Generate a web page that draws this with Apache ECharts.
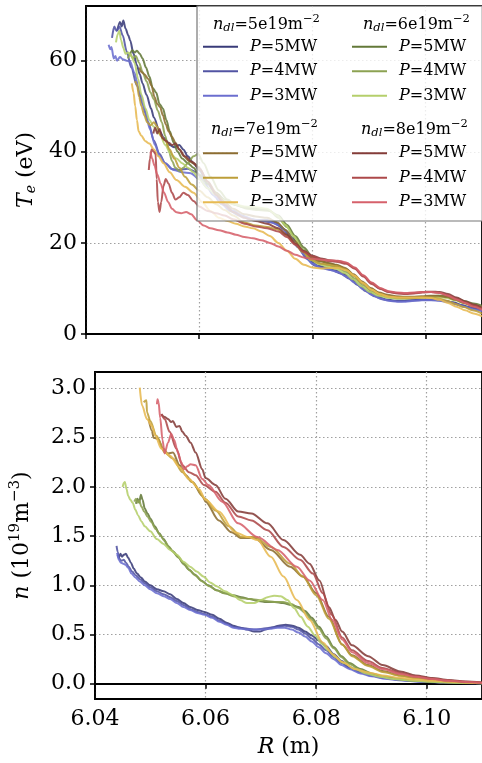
<!DOCTYPE html>
<html><head><meta charset="utf-8">
<script src="https://cdn.jsdelivr.net/npm/echarts@6/dist/echarts.min.js"></script>
<style>html,body{margin:0;padding:0;background:#fff;overflow:hidden}#c{width:482px;height:763px}</style>
</head><body><div id="c"></div>
<script>
// ---------- tick labels ----------
const xTicks = [6.04, 6.06, 6.08, 6.10];
const teTicks = [0, 20, 40, 60];
const nTicks = [0, 0.5, 1.0, 1.5, 2.0, 2.5, 3.0];

// ---------- categories ----------
const densities = ['5', '6', '7', '8'];   // n_dl (1e19 m^-2)
const powers = ['5', '4', '3'];           // P (MW)

// ---------- Te (eV) vs R (m) ----------
const teN5P5 = [[6.0455,66.5],[6.0460,68.5],[6.0463,67.5],[6.0466,68.8],[6.0470,67],[6.0475,65.5],[6.0478,64.5],[6.0484,61.5],[6.0490,59],[6.0495,57],[6.0500,55],[6.0507,52.5],[6.0515,49.5],[6.0520,47.5],[6.0530,44.5],[6.0538,43],[6.0548,41.5],[6.0556,41],[6.0565,41.5],[6.0572,40.5],[6.0580,39],[6.0590,37.5],[6.0600,36],[6.0615,33],[6.0630,30.5],[6.0645,28.5],[6.0660,27],[6.0675,26],[6.0690,25.2],[6.0705,25],[6.0720,25],[6.0735,24.5],[6.0750,23],[6.0765,21],[6.0780,18.5],[6.0795,16.2],[6.0810,15],[6.0825,14.5],[6.0840,14],[6.0855,13.2],[6.0870,12],[6.0885,10.5],[6.0900,9.2],[6.0915,8.2],[6.0930,7.6],[6.0945,7.3],[6.0960,7.3],[6.0975,7.4],[6.0990,7.5],[6.1005,7.5],[6.1020,7.5],[6.1035,7.3],[6.1050,6.9],[6.1065,6.3],[6.1080,5.8],[6.1100,5.2]];
const teN5P4 = [[6.0446,65],[6.0450,67.5],[6.0454,66.5],[6.0459,67.5],[6.0465,65.5],[6.0472,62],[6.0480,58.5],[6.0490,54.5],[6.0500,50.5],[6.0510,46.5],[6.0520,42.5],[6.0530,39.5],[6.0540,37.5],[6.0552,36.2],[6.0565,36],[6.0580,36.3],[6.0595,35.5],[6.0610,33],[6.0625,30.5],[6.0640,28.5],[6.0655,27],[6.0670,26],[6.0690,25.2],[6.0710,24.8],[6.0730,24.5],[6.0745,23.5],[6.0760,21.5],[6.0775,19],[6.0790,16.5],[6.0805,15],[6.0820,14.5],[6.0835,14],[6.0850,13.3],[6.0865,12.2],[6.0880,10.8],[6.0895,9.4],[6.0910,8.3],[6.0925,7.6],[6.0940,7.3],[6.0955,7.2],[6.0970,7.3],[6.0985,7.4],[6.1000,7.5],[6.1015,7.5],[6.1030,7.3],[6.1045,7.0],[6.1060,6.4],[6.1075,5.9],[6.1100,5.2]];
const teN5P3 = [[6.0440,63.5],[6.0443,62.5],[6.0445,63],[6.0449,60.5],[6.0452,61],[6.0455,60],[6.0460,60.8],[6.0465,60.3],[6.0472,60],[6.0478,59.8],[6.0485,57.5],[6.0495,53],[6.0505,48.5],[6.0513,45],[6.0522,41.5],[6.0530,39],[6.0540,37.5],[6.0555,36],[6.0570,35.5],[6.0585,35.3],[6.0600,34],[6.0615,32],[6.0630,30],[6.0645,28.3],[6.0660,27],[6.0680,25.8],[6.0700,25],[6.0720,24.8],[6.0740,24],[6.0755,22.5],[6.0770,20],[6.0785,17.5],[6.0800,15.5],[6.0815,14.5],[6.0830,14.1],[6.0845,13.6],[6.0860,12.6],[6.0875,11.3],[6.0890,9.8],[6.0905,8.6],[6.0920,7.8],[6.0935,7.3],[6.0950,7.1],[6.0965,7.1],[6.0980,7.3],[6.0995,7.4],[6.1010,7.4],[6.1025,7.3],[6.1040,7.0],[6.1055,6.5],[6.1070,5.9],[6.1085,5.4],[6.1100,5.0]];
const teN6P5 = [[6.0478,61.5],[6.0482,62.3],[6.0486,61.8],[6.0490,62.2],[6.0495,61.5],[6.0500,60.5],[6.0506,58.5],[6.0512,56.5],[6.0518,54],[6.0524,53],[6.0530,50.5],[6.0536,49.5],[6.0542,47],[6.0548,44.5],[6.0555,42],[6.0562,40],[6.0570,38.5],[6.0580,37.5],[6.0590,36.5],[6.0600,35],[6.0615,33],[6.0630,31],[6.0645,29.5],[6.0660,28.5],[6.0680,27.8],[6.0700,27.5],[6.0720,27.3],[6.0740,26],[6.0755,24],[6.0770,21.5],[6.0785,19],[6.0800,17],[6.0815,16],[6.0830,15.5],[6.0845,15],[6.0860,14.2],[6.0875,12.8],[6.0890,11.2],[6.0905,9.8],[6.0920,8.8],[6.0935,8.3],[6.0950,8.1],[6.0965,8.0],[6.0980,8.0],[6.0995,8.1],[6.1010,8.3],[6.1025,8.4],[6.1040,8.3],[6.1055,7.8],[6.1070,7.2],[6.1085,6.7],[6.1100,6.2]];
const teN6P4 = [[6.0474,60.5],[6.0478,61.5],[6.0483,60.5],[6.0488,61],[6.0494,59.5],[6.0500,57.5],[6.0507,55.5],[6.0514,53],[6.0520,51.5],[6.0527,49],[6.0534,46.5],[6.0540,43.5],[6.0546,40.5],[6.0552,38],[6.0558,36.5],[6.0565,35.8],[6.0572,36.5],[6.0580,37.5],[6.0590,39],[6.0598,39.5],[6.0608,37.5],[6.0620,34.5],[6.0635,31.5],[6.0650,29.5],[6.0665,28.3],[6.0685,27.5],[6.0705,27.2],[6.0725,27],[6.0740,25.5],[6.0755,23.5],[6.0770,21],[6.0785,18.5],[6.0800,16.5],[6.0815,15.5],[6.0830,15],[6.0845,14.5],[6.0860,13.6],[6.0875,12.2],[6.0890,10.7],[6.0905,9.4],[6.0920,8.5],[6.0935,8.0],[6.0950,7.8],[6.0965,7.8],[6.0980,7.9],[6.0995,8.0],[6.1010,8.2],[6.1025,8.2],[6.1040,8.0],[6.1055,7.5],[6.1070,6.9],[6.1085,6.4],[6.1100,5.9]];
const teN6P3 = [[6.0453,64],[6.0456,65.8],[6.0459,66.5],[6.0462,64.5],[6.0466,62.8],[6.0470,61.5],[6.0475,61.8],[6.0480,61],[6.0486,59.5],[6.0492,56],[6.0498,52.5],[6.0505,49.5],[6.0512,47],[6.0520,45.5],[6.0530,44],[6.0540,41.5],[6.0550,39.5],[6.0560,38.5],[6.0570,37.5],[6.0580,36.5],[6.0590,35.5],[6.0600,34],[6.0615,32],[6.0630,30.5],[6.0645,29.3],[6.0660,28.5],[6.0680,28],[6.0700,27.8],[6.0720,27.5],[6.0738,26],[6.0752,24],[6.0767,21.5],[6.0782,18.5],[6.0797,16.3],[6.0812,15.3],[6.0827,14.8],[6.0842,14.3],[6.0857,13.4],[6.0872,12.0],[6.0887,10.5],[6.0902,9.2],[6.0917,8.4],[6.0932,8.0],[6.0947,7.8],[6.0962,7.8],[6.0977,7.9],[6.0992,8.0],[6.1007,8.1],[6.1022,8.1],[6.1037,7.9],[6.1052,7.4],[6.1067,6.8],[6.1082,6.2],[6.1100,5.7]];
const teN7P5 = [[6.0494,58.5],[6.0498,57.5],[6.0503,57],[6.0510,56],[6.0516,54.5],[6.0521,52],[6.0526,50.5],[6.0531,49.8],[6.0536,48],[6.0541,46],[6.0546,44.5],[6.0552,43.3],[6.0558,42],[6.0565,40.5],[6.0573,39],[6.0582,38],[6.0592,37.3],[6.0602,36],[6.0615,33.5],[6.0630,31],[6.0645,29],[6.0660,27.5],[6.0680,26.3],[6.0700,25.8],[6.0720,25.5],[6.0738,24.5],[6.0753,22.8],[6.0768,20.5],[6.0783,18.3],[6.0798,16.8],[6.0813,16],[6.0828,15.6],[6.0843,15.2],[6.0858,14.5],[6.0873,13.1],[6.0888,11.5],[6.0903,10.1],[6.0918,9.1],[6.0933,8.6],[6.0948,8.3],[6.0963,8.2],[6.0978,8.2],[6.0993,8.3],[6.1008,8.4],[6.1023,8.4],[6.1038,8.1],[6.1053,7.5],[6.1068,6.8],[6.1083,6.2],[6.1100,5.6]];
const teN7P4 = [[6.0487,55.5],[6.0490,54.8],[6.0494,52],[6.0498,50],[6.0503,48],[6.0508,46.5],[6.0514,45.8],[6.0520,46.5],[6.0526,45.5],[6.0532,43.5],[6.0540,42.5],[6.0548,40.5],[6.0556,38.5],[6.0565,36.5],[6.0575,34.5],[6.0587,32.8],[6.0600,31.5],[6.0615,30],[6.0630,28.5],[6.0645,27.2],[6.0660,26],[6.0680,24.5],[6.0700,23.8],[6.0720,23.5],[6.0738,23],[6.0753,21.8],[6.0768,20],[6.0783,18],[6.0798,16.3],[6.0813,15.5],[6.0828,15.2],[6.0843,14.9],[6.0858,14.2],[6.0873,12.8],[6.0888,11.2],[6.0903,9.8],[6.0918,8.8],[6.0933,8.3],[6.0948,8.0],[6.0963,7.9],[6.0978,7.9],[6.0993,8.0],[6.1008,8.0],[6.1023,7.8],[6.1038,7.3],[6.1053,6.6],[6.1068,5.9],[6.1083,5.2],[6.1100,4.5]];
const teN7P3 = [[6.0481,55],[6.0484,53],[6.0487,50],[6.0490,47],[6.0493,44.5],[6.0498,43.5],[6.0505,42.3],[6.0512,41.8],[6.0520,40.5],[6.0528,39],[6.0537,37.5],[6.0548,35.5],[6.0560,33.8],[6.0575,32.3],[6.0590,31],[6.0605,29],[6.0620,27],[6.0635,25.5],[6.0650,24.8],[6.0665,24.2],[6.0680,23.6],[6.0695,23.2],[6.0710,22.5],[6.0725,21.5],[6.0740,20],[6.0755,18.3],[6.0770,16.5],[6.0785,15.2],[6.0800,14.6],[6.0815,14.4],[6.0830,14.5],[6.0845,14.5],[6.0860,14],[6.0875,12.8],[6.0890,11.2],[6.0905,9.7],[6.0920,8.7],[6.0935,8.2],[6.0950,8.0],[6.0965,8.0],[6.0980,8.0],[6.0995,8.0],[6.1010,7.9],[6.1025,7.5],[6.1040,6.8],[6.1055,6.0],[6.1070,5.2],[6.1085,4.5],[6.1100,3.9]];
const teN8P5 = [[6.0519,44],[6.0522,45.3],[6.0526,44],[6.0530,45],[6.0535,43],[6.0540,42.5],[6.0546,42],[6.0552,41.5],[6.0558,41.8],[6.0565,40.5],[6.0575,39],[6.0587,37.8],[6.0600,36.5],[6.0615,33.5],[6.0630,30.5],[6.0645,28.3],[6.0660,26.8],[6.0680,25.5],[6.0700,24.8],[6.0720,24.2],[6.0740,23.2],[6.0755,21.8],[6.0770,19.8],[6.0785,18.2],[6.0800,17.2],[6.0815,16.6],[6.0830,16.2],[6.0845,16],[6.0860,15.6],[6.0875,14.5],[6.0890,12.8],[6.0905,11.2],[6.0920,10],[6.0935,9.3],[6.0950,9.0],[6.0965,8.9],[6.0980,9.0],[6.0995,9.2],[6.1010,9.3],[6.1025,9.2],[6.1040,8.8],[6.1055,8.0],[6.1070,7.2],[6.1085,6.5],[6.1100,5.8]];
const teN8P4 = [[6.0511,36],[6.0513,38.5],[6.0516,40.5],[6.0520,40],[6.0523,39.5],[6.0525,34],[6.0527,29],[6.0530,26.8],[6.0533,29],[6.0537,32.5],[6.0541,34],[6.0546,33],[6.0552,31],[6.0558,29.5],[6.0565,30],[6.0572,31],[6.0580,30.5],[6.0590,29.2],[6.0600,28],[6.0615,27],[6.0630,26.5],[6.0645,26],[6.0660,25.2],[6.0680,24.2],[6.0700,23.6],[6.0720,23.2],[6.0740,22.5],[6.0755,21.3],[6.0770,19.6],[6.0785,18],[6.0800,17],[6.0815,16.4],[6.0830,16],[6.0845,15.8],[6.0860,15.4],[6.0875,14.3],[6.0890,12.6],[6.0905,11],[6.0920,9.9],[6.0935,9.2],[6.0950,8.9],[6.0965,8.8],[6.0980,8.9],[6.0995,9.1],[6.1010,9.2],[6.1025,9.0],[6.1040,8.5],[6.1055,7.7],[6.1070,6.9],[6.1085,6.2],[6.1100,5.5]];
const teN8P3 = [[6.0514,40],[6.0517,38.5],[6.0521,37],[6.0526,35],[6.0532,33],[6.0538,31],[6.0545,29],[6.0552,27.5],[6.0560,26.7],[6.0568,26.5],[6.0577,26.8],[6.0586,26.3],[6.0596,25],[6.0608,23.8],[6.0620,23.2],[6.0635,22.8],[6.0650,22.3],[6.0665,21.8],[6.0680,21.3],[6.0695,21],[6.0710,20.6],[6.0725,20],[6.0740,19.2],[6.0755,18.3],[6.0770,17.4],[6.0785,16.8],[6.0800,16.5],[6.0815,16.3],[6.0830,16.2],[6.0845,16.1],[6.0860,15.7],[6.0875,14.6],[6.0890,12.9],[6.0905,11.3],[6.0920,10.1],[6.0935,9.4],[6.0950,9.1],[6.0965,9.0],[6.0980,9.1],[6.0995,9.2],[6.1010,9.2],[6.1025,9.0],[6.1040,8.4],[6.1055,7.6],[6.1070,6.8],[6.1085,6.0],[6.1100,5.3]];

// ---------- n (1e19 m^-3) vs R (m) ----------
const neN5P5 = [[6.0441,1.31],[6.0443,1.28],[6.0446,1.32],[6.0449,1.29],[6.0452,1.31],[6.0456,1.32],[6.0460,1.28],[6.0465,1.23],[6.0470,1.17],[6.0476,1.12],[6.0483,1.08],[6.0490,1.04],[6.0500,1.00],[6.0512,0.96],[6.0524,0.94],[6.0536,0.91],[6.0548,0.86],[6.0560,0.82],[6.0572,0.78],[6.0585,0.75],[6.0598,0.73],[6.0612,0.70],[6.0625,0.66],[6.0638,0.62],[6.0650,0.59],[6.0662,0.57],[6.0675,0.55],[6.0688,0.53],[6.0698,0.53],[6.0708,0.55],[6.0720,0.57],[6.0732,0.59],[6.0745,0.60],[6.0757,0.59],[6.0768,0.57],[6.0780,0.53],[6.0792,0.49],[6.0805,0.44],[6.0818,0.38],[6.0832,0.30],[6.0846,0.23],[6.0860,0.17],[6.0880,0.12],[6.0900,0.085],[6.0925,0.06],[6.0950,0.042],[6.0975,0.03],[6.1000,0.022],[6.1030,0.015],[6.1060,0.01],[6.1100,0.006]];
const neN5P4 = [[6.0439,1.40],[6.0441,1.34],[6.0444,1.27],[6.0448,1.25],[6.0452,1.26],[6.0456,1.23],[6.0461,1.19],[6.0467,1.14],[6.0474,1.10],[6.0482,1.06],[6.0490,1.02],[6.0500,0.98],[6.0512,0.94],[6.0524,0.91],[6.0536,0.88],[6.0548,0.84],[6.0560,0.80],[6.0572,0.76],[6.0585,0.73],[6.0598,0.71],[6.0612,0.68],[6.0625,0.64],[6.0638,0.61],[6.0650,0.58],[6.0663,0.57],[6.0676,0.56],[6.0690,0.55],[6.0703,0.56],[6.0716,0.57],[6.0730,0.58],[6.0743,0.59],[6.0756,0.58],[6.0768,0.55],[6.0780,0.51],[6.0792,0.46],[6.0805,0.40],[6.0818,0.34],[6.0832,0.27],[6.0846,0.21],[6.0860,0.16],[6.0880,0.115],[6.0900,0.08],[6.0925,0.055],[6.0950,0.04],[6.0975,0.028],[6.1000,0.02],[6.1030,0.014],[6.1060,0.009],[6.1100,0.005]];
const neN5P3 = [[6.0440,1.33],[6.0443,1.26],[6.0447,1.23],[6.0451,1.22],[6.0455,1.21],[6.0460,1.18],[6.0466,1.12],[6.0473,1.08],[6.0481,1.04],[6.0490,1.00],[6.0500,0.96],[6.0512,0.92],[6.0524,0.89],[6.0536,0.86],[6.0548,0.82],[6.0560,0.78],[6.0572,0.75],[6.0585,0.72],[6.0598,0.70],[6.0612,0.67],[6.0625,0.63],[6.0638,0.60],[6.0650,0.57],[6.0663,0.56],[6.0676,0.55],[6.0690,0.55],[6.0703,0.55],[6.0716,0.56],[6.0730,0.57],[6.0743,0.57],[6.0756,0.55],[6.0768,0.52],[6.0780,0.48],[6.0792,0.43],[6.0805,0.37],[6.0818,0.31],[6.0832,0.25],[6.0846,0.19],[6.0860,0.15],[6.0880,0.105],[6.0900,0.075],[6.0925,0.05],[6.0950,0.035],[6.0975,0.025],[6.1000,0.018],[6.1030,0.012],[6.1060,0.008],[6.1100,0.005]];
const neN6P5 = [[6.0474,1.83],[6.0477,1.88],[6.0480,1.84],[6.0483,1.92],[6.0486,1.87],[6.0490,1.78],[6.0495,1.73],[6.0500,1.68],[6.0508,1.60],[6.0516,1.53],[6.0524,1.47],[6.0532,1.40],[6.0540,1.35],[6.0550,1.29],[6.0560,1.22],[6.0570,1.16],[6.0580,1.11],[6.0592,1.05],[6.0605,1.00],[6.0620,0.95],[6.0635,0.92],[6.0650,0.90],[6.0665,0.88],[6.0680,0.86],[6.0695,0.84],[6.0710,0.83],[6.0725,0.83],[6.0740,0.82],[6.0755,0.80],[6.0768,0.78],[6.0780,0.74],[6.0792,0.67],[6.0805,0.58],[6.0818,0.48],[6.0832,0.37],[6.0846,0.28],[6.0860,0.21],[6.0880,0.15],[6.0900,0.105],[6.0925,0.07],[6.0950,0.048],[6.0975,0.034],[6.1000,0.024],[6.1030,0.016],[6.1060,0.01],[6.1100,0.006]];
const neN6P4 = [[6.0471,1.85],[6.0474,1.88],[6.0477,1.84],[6.0480,1.86],[6.0484,1.80],[6.0489,1.75],[6.0495,1.70],[6.0502,1.64],[6.0510,1.57],[6.0518,1.51],[6.0526,1.45],[6.0534,1.39],[6.0542,1.34],[6.0552,1.28],[6.0562,1.21],[6.0572,1.15],[6.0582,1.10],[6.0594,1.04],[6.0607,0.99],[6.0620,0.95],[6.0635,0.92],[6.0650,0.89],[6.0665,0.87],[6.0680,0.86],[6.0695,0.85],[6.0710,0.84],[6.0725,0.83],[6.0740,0.83],[6.0755,0.81],[6.0768,0.77],[6.0780,0.72],[6.0792,0.65],[6.0805,0.56],[6.0818,0.46],[6.0832,0.36],[6.0846,0.27],[6.0860,0.20],[6.0880,0.14],[6.0900,0.1],[6.0925,0.068],[6.0950,0.046],[6.0975,0.032],[6.1000,0.023],[6.1030,0.015],[6.1060,0.01],[6.1100,0.006]];
const neN6P3 = [[6.0450,2.00],[6.0452,2.04],[6.0454,2.05],[6.0457,1.98],[6.0460,1.91],[6.0464,1.87],[6.0468,1.84],[6.0473,1.77],[6.0478,1.71],[6.0484,1.65],[6.0490,1.60],[6.0500,1.55],[6.0512,1.47],[6.0524,1.42],[6.0536,1.36],[6.0548,1.31],[6.0560,1.24],[6.0572,1.19],[6.0584,1.14],[6.0596,1.09],[6.0608,1.03],[6.0620,0.99],[6.0635,0.94],[6.0650,0.90],[6.0662,0.85],[6.0675,0.82],[6.0688,0.82],[6.0700,0.85],[6.0712,0.88],[6.0724,0.895],[6.0736,0.89],[6.0748,0.85],[6.0760,0.77],[6.0772,0.68],[6.0785,0.58],[6.0798,0.49],[6.0810,0.41],[6.0822,0.34],[6.0835,0.27],[6.0850,0.21],[6.0870,0.15],[6.0890,0.105],[6.0915,0.07],[6.0940,0.048],[6.0970,0.032],[6.1000,0.022],[6.1030,0.015],[6.1060,0.01],[6.1100,0.006]];
const neN7P5 = [[6.0497,2.69],[6.0503,2.57],[6.0506,2.50],[6.0514,2.49],[6.0523,2.39],[6.0532,2.34],[6.0541,2.35],[6.0553,2.22],[6.0564,2.12],[6.0576,2.05],[6.0594,1.91],[6.0600,1.85],[6.0624,1.66],[6.0647,1.54],[6.0665,1.48],[6.0688,1.48],[6.0718,1.36],[6.0753,1.19],[6.0776,1.09],[6.0800,0.92],[6.0823,0.68],[6.0847,0.40],[6.0865,0.29],[6.0894,0.19],[6.0920,0.13],[6.0952,0.085],[6.0980,0.058],[6.1010,0.04],[6.1040,0.026],[6.1070,0.016],[6.1100,0.009]];
const neN7P4 = [[6.0488,2.86],[6.0493,2.88],[6.0494,2.76],[6.0500,2.67],[6.0511,2.52],[6.0526,2.35],[6.0541,2.29],[6.0558,2.15],[6.0576,2.05],[6.0599,1.88],[6.0618,1.76],[6.0642,1.60],[6.0665,1.49],[6.0689,1.49],[6.0718,1.39],[6.0753,1.22],[6.0776,1.09],[6.0800,0.90],[6.0823,0.66],[6.0847,0.40],[6.0865,0.28],[6.0894,0.18],[6.0920,0.12],[6.0952,0.08],[6.0980,0.055],[6.1010,0.037],[6.1040,0.024],[6.1070,0.015],[6.1100,0.008]];
const neN7P3 = [[6.0481,3.01],[6.0485,2.83],[6.0494,2.69],[6.0503,2.62],[6.0509,2.52],[6.0520,2.39],[6.0535,2.32],[6.0553,2.20],[6.0570,2.08],[6.0588,1.98],[6.0600,1.87],[6.0624,1.75],[6.0653,1.54],[6.0677,1.49],[6.0694,1.46],[6.0718,1.29],[6.0741,1.09],[6.0765,0.85],[6.0788,0.65],[6.0812,0.42],[6.0830,0.30],[6.0847,0.22],[6.0870,0.15],[6.0894,0.115],[6.0920,0.085],[6.0952,0.06],[6.0980,0.043],[6.1010,0.03],[6.1040,0.02],[6.1070,0.013],[6.1100,0.007]];
const neN8P5 = [[6.0520,2.74],[6.0526,2.71],[6.0532,2.69],[6.0538,2.66],[6.0541,2.67],[6.0547,2.61],[6.0553,2.62],[6.0558,2.56],[6.0564,2.52],[6.0573,2.45],[6.0582,2.35],[6.0594,2.18],[6.0600,2.09],[6.0618,2.02],[6.0636,1.88],[6.0659,1.75],[6.0683,1.73],[6.0712,1.63],[6.0741,1.46],[6.0771,1.31],[6.0788,1.22],[6.0806,1.05],[6.0823,0.78],[6.0835,0.65],[6.0847,0.53],[6.0865,0.39],[6.0894,0.28],[6.0920,0.19],[6.0952,0.125],[6.0980,0.085],[6.1010,0.058],[6.1040,0.037],[6.1070,0.022],[6.1100,0.012]];
const neN8P4 = [[6.0520,2.74],[6.0526,2.69],[6.0535,2.56],[6.0547,2.39],[6.0558,2.22],[6.0570,2.15],[6.0582,2.12],[6.0597,2.02],[6.0618,1.95],[6.0636,1.84],[6.0659,1.70],[6.0683,1.66],[6.0712,1.56],[6.0741,1.39],[6.0771,1.26],[6.0794,1.12],[6.0812,0.92],[6.0828,0.70],[6.0847,0.47],[6.0865,0.34],[6.0894,0.23],[6.0920,0.16],[6.0952,0.11],[6.0980,0.075],[6.1010,0.05],[6.1040,0.032],[6.1070,0.02],[6.1100,0.011]];
const neN8P3 = [[6.0512,2.84],[6.0513,2.89],[6.0515,2.86],[6.0518,2.70],[6.0522,2.48],[6.0526,2.34],[6.0532,2.45],[6.0538,2.54],[6.0543,2.48],[6.0550,2.35],[6.0556,2.25],[6.0561,2.18],[6.0567,2.21],[6.0573,2.23],[6.0582,2.22],[6.0594,2.08],[6.0605,2.02],[6.0630,1.85],[6.0659,1.63],[6.0694,1.49],[6.0730,1.36],[6.0765,1.19],[6.0788,1.05],[6.0812,0.85],[6.0829,0.65],[6.0847,0.45],[6.0865,0.32],[6.0894,0.21],[6.0920,0.15],[6.0952,0.1],[6.0980,0.07],[6.1010,0.047],[6.1040,0.03],[6.1070,0.019],[6.1100,0.01]];

// ---------- colours (tab20b) ----------
const palette = {
  '5': ['#393b79', '#5254a3', '#6b6ecf'],
  '6': ['#637939', '#8ca252', '#b5cf6b'],
  '7': ['#8c6d31', '#bd9e39', '#e7ba52'],
  '8': ['#843c39', '#ad494a', '#d6616b']
};

const teData = {n5P5: teN5P5, n5P4: teN5P4, n5P3: teN5P3, n6P5: teN6P5, n6P4: teN6P4, n6P3: teN6P3,
  n7P5: teN7P5, n7P4: teN7P4, n7P3: teN7P3, n8P5: teN8P5, n8P4: teN8P4, n8P3: teN8P3};
const neData = {n5P5: neN5P5, n5P4: neN5P4, n5P3: neN5P3, n6P5: neN6P5, n6P4: neN6P4, n6P3: neN6P3,
  n7P5: neN7P5, n7P4: neN7P4, n7P3: neN7P3, n8P5: neN8P5, n8P4: neN8P4, n8P3: neN8P3};

const F = 'DejaVu Serif';
const series = [];
densities.forEach(d => powers.forEach((p, k) => {
  const name = 'n' + d + 'P' + p;
  const c = palette[d][k];
  [[teData[name], 0], [neData[name], 1]].forEach(([data, idx]) => {
    series.push({
      type: 'line', name: name, data: data, xAxisIndex: idx, yAxisIndex: idx,
      symbol: 'none', smooth: 0.3, smoothMonotone: 'x', clip: true, silent: true,
      itemStyle: {color: c}, lineStyle: {color: c, width: 2, opacity: 0.88},
      emphasis: {disabled: true}, z: 2
    });
  });
}));

const gridLine = {show: true, lineStyle: {color: '#a0a0a0', width: 1.2, type: [1.5, 2.5]}};
const tick = {show: true, inside: false, length: 5, lineStyle: {color: '#000', width: 1.5}};
const axisLine = {show: true, lineStyle: {color: '#000', width: 1.8}};
const label = {color: '#000', fontFamily: F, fontSize: 22};

function mkX(idx, showLabel) {
  return {
    type: 'value', gridIndex: idx, min: 6.04, max: 6.11,
    axisLine: axisLine,
    axisTick: Object.assign({customValues: xTicks}, tick),
    axisLabel: Object.assign({show: showLabel, customValues: xTicks, margin: 9,
      formatter: v => v.toFixed(2)}, label),
    splitLine: gridLine,
    name: showLabel ? '{i|R} (m)' : '', nameLocation: 'middle', nameGap: 37,
    nameTextStyle: {fontFamily: F, fontSize: 22, color: '#000',
      rich: {i: {fontFamily: F, fontSize: 22, fontStyle: 'italic', color: '#000'}}}
  };
}

const legendRich = {
  sp: {width: 7, fontSize: 16, lineHeight: 24.5},
  i: {fontFamily: F, fontStyle: 'italic', fontSize: 16, color: '#000', lineHeight: 24.5}
};
function mkLegend(d, left, top) {
  return {
    data: powers.map(p => 'n' + d + 'P' + p), orient: 'vertical', left: left, top: top,
    padding: 0, itemGap: 0, itemWidth: 35, itemHeight: 2.2, icon: 'rect', selectedMode: false, z: 6,
    textStyle: {fontFamily: F, fontSize: 16, color: '#000', lineHeight: 24.5, rich: legendRich},
    formatter: name => '{sp| }{i|P}=' + name.slice(3) + 'MW'
  };
}

const titleRich = {
  i: {fontFamily: F, fontStyle: 'italic', fontSize: 16, fill: '#000'},
  sub: {fontFamily: F, fontStyle: 'italic', fontSize: 11.5, padding: [7, 0, 0, 0], fill: '#000'},
  sup: {fontFamily: F, fontSize: 11.5, padding: [0, 0, 11, 0], fill: '#000'}
};
function mkTitle(d, x, y) {
  return {type: 'text', x: x, y: y, z: 7, silent: true,
    style: {text: '{i|n}{sub|dl}=' + d + 'e19m{sup|\u22122}', align: 'center', verticalAlign: 'middle',
      fontFamily: F, fontSize: 16, fill: '#000', rich: titleRich}};
}

const option = {
  animation: false,
  backgroundColor: '#fff',
  grid: [
    {left: 86, top: 6, width: 398, height: 328, show: true, borderColor: '#000', borderWidth: 1.8, backgroundColor: 'transparent'},
    {left: 86, top: 372, width: 398, height: 327, show: true, borderColor: '#000', borderWidth: 1.8, backgroundColor: 'transparent'}
  ],
  xAxis: [mkX(0, false), mkX(1, true)],
  yAxis: [
    {type: 'value', gridIndex: 0, min: 0, max: 72, axisLine: axisLine,
      axisTick: Object.assign({customValues: teTicks}, tick),
      axisLabel: Object.assign({customValues: teTicks, margin: 9}, label),
      splitLine: gridLine,
      name: '{i|T}{sub|e} (eV)', nameLocation: 'middle', nameGap: 38,
      nameTextStyle: {fontFamily: F, fontSize: 22, color: '#000', rich: {
        i: {fontFamily: F, fontStyle: 'italic', fontSize: 22, color: '#000'},
        sub: {fontFamily: F, fontStyle: 'italic', fontSize: 14, padding: [10, 0, 0, 0], color: '#000'}}}},
    {type: 'value', gridIndex: 1, min: -0.155, max: 3.168, axisLine: axisLine,
      axisTick: Object.assign({customValues: nTicks}, tick),
      axisLabel: Object.assign({customValues: nTicks, margin: 9, formatter: v => v.toFixed(1)}, label),
      splitLine: gridLine,
      name: '{i|n} (10{sup|19}m{sup|\u22123})', nameLocation: 'middle', nameGap: 58,
      nameTextStyle: {fontFamily: F, fontSize: 22, color: '#000', rich: {
        i: {fontFamily: F, fontStyle: 'italic', fontSize: 22, color: '#000'},
        sup: {fontFamily: F, fontSize: 15, padding: [0, 0, 14, 0], color: '#000'}}}}
  ],
  legend: [mkLegend('5', 203, 34.5), mkLegend('6', 352, 34.5), mkLegend('7', 203, 141), mkLegend('8', 352, 141)],
  graphic: {elements: [
    {type: 'rect', z: 3, silent: true, shape: {x: 197, y: 6, width: 300, height: 215},
      style: {fill: 'rgba(255,255,255,0.8)', stroke: '#777', lineWidth: 1.2}},
    mkTitle('5', 266.5, 25), mkTitle('6', 416.5, 25), mkTitle('7', 264.5, 130), mkTitle('8', 414.5, 130)
  ]},
  series: series
};

const chart = echarts.init(document.getElementById('c'), null, {renderer: 'canvas'});
chart.setOption(option);
</script>
</body></html>
